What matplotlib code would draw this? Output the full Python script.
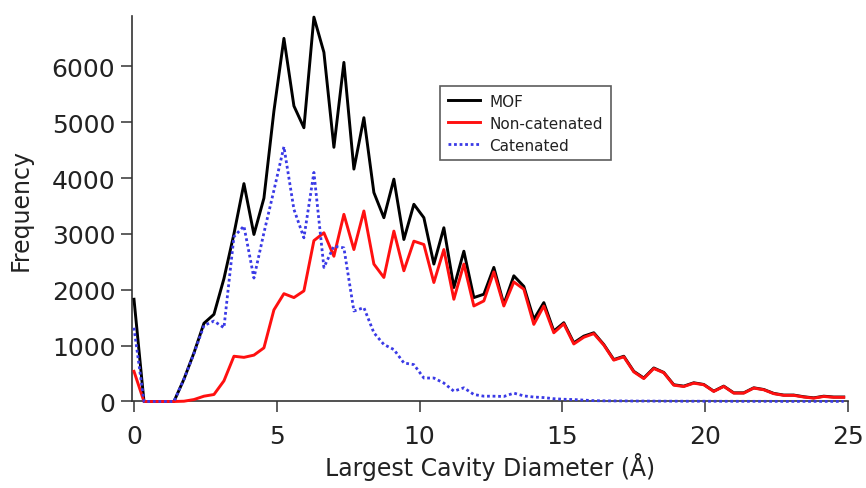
import numpy as np
import matplotlib.pyplot as plt

# bin centres (Å), 0.35 Å wide bins
lcd = np.arange(72) * 0.35

mof = [1830, 0, 0, 0, 0, 400, 870, 1400, 1560, 2200,
       3000, 3900, 2990, 3640, 5200, 6500, 5290, 4900, 6880, 6250,
       4550, 6070, 4160, 5080, 3740, 3290, 3980, 2900, 3530, 3290,
       2460, 3110, 2040, 2690, 1860, 1920, 2400, 1740, 2250, 2060,
       1470, 1770, 1260, 1410, 1050, 1170, 1230, 1020, 750, 810,
       540, 420, 600, 520, 300, 275, 335, 305, 185, 275,
       155, 155, 245, 215, 145, 115, 115, 85, 65, 95,
       80, 80]

noncat = [540, 0, 0, 0, 0, 5, 35, 95, 125, 370,
          810, 790, 830, 960, 1640, 1930, 1860, 1980, 2880, 3020,
          2600, 3350, 2720, 3410, 2460, 2220, 3050, 2340, 2870, 2810,
          2130, 2720, 1830, 2460, 1710, 1800, 2320, 1710, 2140, 2010,
          1380, 1710, 1230, 1390, 1030, 1150, 1215, 1010, 740, 800,
          530, 410, 590, 515, 292, 268, 328, 300, 180, 270,
          150, 150, 240, 210, 140, 110, 110, 80, 60, 90,
          75, 75]

cat = [1320, 0, 0, 0, 0, 400, 860, 1360, 1440, 1320,
       2950, 3140, 2210, 3020, 3780, 4560, 3440, 2930, 4100, 2400,
       2780, 2750, 1620, 1680, 1230, 1020, 930, 690, 660, 420,
       420, 330, 185, 245, 125, 95, 95, 90, 150, 100,
       80, 70, 50, 40, 35, 25, 15, 12, 10, 10,
       8, 8, 7, 6, 6, 5, 5, 5, 4, 4,
       4, 3, 3, 3, 3, 2, 2, 2, 2, 2,
       2, 2]

tc = '#222222'
plt.rcParams['font.family'] = 'DejaVu Sans'

fig = plt.figure(figsize=(8.66, 4.89), dpi=100)
ax = fig.add_axes([0.1524, 0.1769, 0.8268, 0.7883])

ax.plot(lcd, mof, color='black', lw=2.1, label='MOF', clip_on=False)
ax.plot(lcd, noncat, color='#ff1010', lw=2.1, label='Non-catenated', clip_on=False)
ax.plot(lcd, cat, color='#3a3ae6', lw=2.0, ls=(0, (1, 1)), label='Catenated',
        clip_on=False)

ax.set_xlim(-0.07, 25)
ax.set_ylim(0, 6900)
ax.set_xticks([0, 5, 10, 15, 20, 25])
ax.set_yticks([0, 1000, 2000, 3000, 4000, 5000, 6000])

for s in ['top', 'right']:
    ax.spines[s].set_visible(False)
for s in ['left', 'bottom']:
    ax.spines[s].set_color('#333333')
    ax.spines[s].set_linewidth(1.2)
    ax.spines[s].set_zorder(0)

ax.tick_params(direction='out', length=8, width=1.1, color='#333333',
               labelsize=18, labelcolor=tc, pad=4)
ax.tick_params(axis='x', pad=8)

ax.set_xlabel('Largest Cavity Diameter (Å)', fontsize=17, color=tc, labelpad=3)
ax.set_ylabel('Frequency', fontsize=17, color=tc, labelpad=14)

leg = ax.legend(loc='upper left', bbox_to_anchor=(0.430, 0.818), fontsize=11,
                frameon=True, fancybox=False, handlelength=2.1,
                borderpad=0.5, labelspacing=0.45, handletextpad=0.65,
                borderaxespad=0)
leg.get_frame().set_edgecolor('#333333')
leg.get_frame().set_linewidth(1.2)
for t in leg.get_texts():
    t.set_color(tc)

fig.savefig('out.png', dpi=100)
